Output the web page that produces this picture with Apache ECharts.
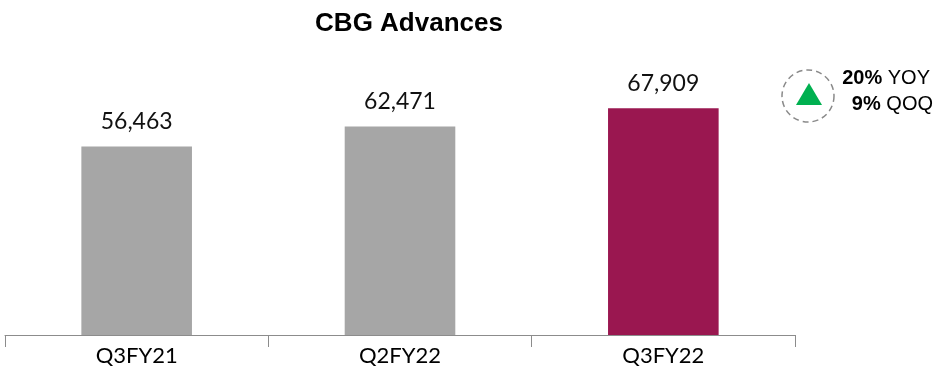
<!DOCTYPE html>
<html>
<head>
<meta charset="utf-8">
<script src="https://cdn.jsdelivr.net/npm/echarts@6/dist/echarts.min.js"></script>
<style>
  html, body { margin: 0; padding: 0; background: #fff; }
  #main { width: 938px; height: 375px; }
</style>
</head>
<body>
<div id="main"></div>
<script>
var categories = ['Q3FY21', 'Q2FY22', 'Q3FY22']
var advances = [56463, 62471, 67909]
var barColors = ['#a6a6a6', '#a6a6a6', '#9a1750']
var growthPct = ['20%', '9%']
var growthLabels = ['YOY', 'QOQ']

var chart = echarts.init(document.getElementById('main'))
let option = {
    animation: false,
    title: {
        text: 'CBG Advances',
        left: 404,
        top: 6,
        textAlign: 'center',
        textStyle: {
            fontFamily: 'Liberation Sans',
            fontWeight: 'bold',
            fontSize: 26,
            color: '#000'
        }
    },
    grid: {
        left: 5,
        right: 143,
        top: 68,
        bottom: 40
    },
    xAxis: {
        type: 'category',
        data: categories,
        axisLine: {
            lineStyle: { color: '#8c8c8c', width: 1 }
        },
        axisTick: {
            show: true,
            length: 12,
            lineStyle: { color: '#8c8c8c' }
        },
        axisLabel: {
            margin: 10,
            fontFamily: 'Lato',
            fontSize: 22,
            color: '#000'
        }
    },
    yAxis: {
        type: 'value',
        min: 0,
        max: 80000,
        show: false,
        splitLine: { show: false }
    },
    series: [{
        type: 'bar',
        barWidth: '42%',
        data: advances.map(function (v, i) {
            return { value: v, itemStyle: { color: barColors[i] } }
        }),
        label: {
            show: true,
            position: 'top',
            distance: 13,
            fontFamily: 'Lato',
            fontSize: 23,
            color: '#111',
            formatter: function (p) {
                return p.value.toLocaleString('en-US')
            }
        }
    }],
    graphic: [
        {
            type: 'circle',
            shape: { cx: 808, cy: 96, r: 26 },
            style: { fill: 'none', stroke: '#8a8a8a', lineWidth: 1.5, lineDash: [6, 4] }
        },
        {
            type: 'polygon',
            shape: { points: [[809, 83], [796, 105], [822, 105]] },
            style: { fill: '#00b050' }
        },
        {
            type: 'text',
            x: 930,
            y: 78,
            style: {
                text: '{b|' + growthPct[0] + '} ' + growthLabels[0],
                align: 'right',
                verticalAlign: 'middle',
                fontFamily: 'Liberation Sans',
                fontSize: 20,
                fill: '#000',
                rich: { b: { fontWeight: 'bold', fontFamily: 'Liberation Sans', fontSize: 20 } }
            }
        },
        {
            type: 'text',
            x: 933,
            y: 104,
            style: {
                text: '{b|' + growthPct[1] + '} ' + growthLabels[1],
                align: 'right',
                verticalAlign: 'middle',
                fontFamily: 'Liberation Sans',
                fontSize: 20,
                fill: '#000',
                rich: { b: { fontWeight: 'bold', fontFamily: 'Liberation Sans', fontSize: 20 } }
            }
        }
    ]
};
chart.setOption(option)
</script>
</body>
</html>
